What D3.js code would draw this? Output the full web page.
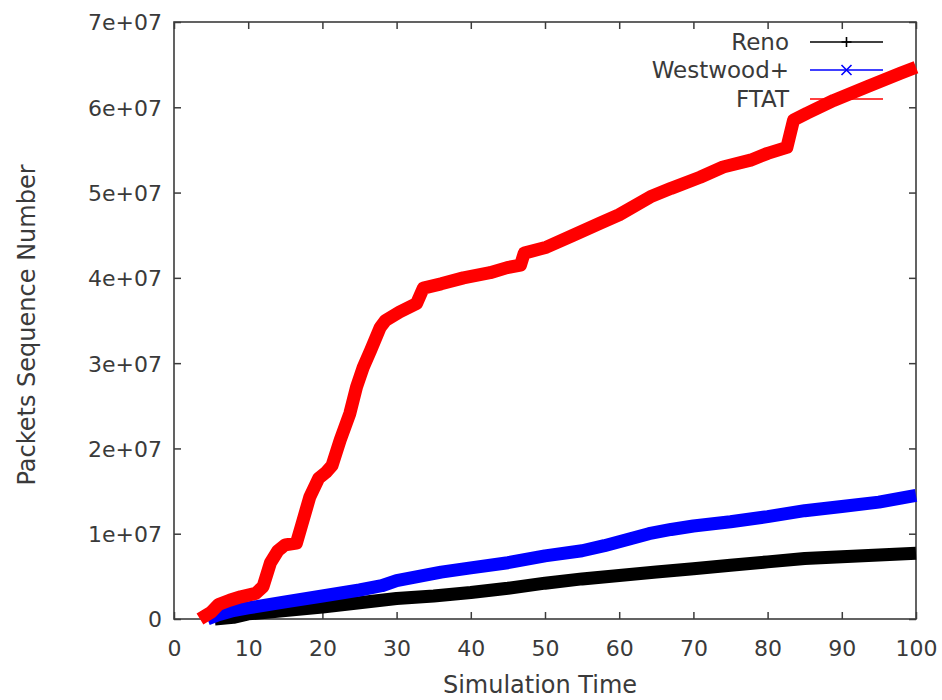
<!DOCTYPE html>
<html>
<head>
<meta charset="utf-8">
<script src="https://cdn.jsdelivr.net/npm/d3@7"></script>
<style>
  html, body { margin: 0; padding: 0; background: #fff; }
  svg { display: block; }
  text { font-family: "DejaVu Sans", sans-serif; fill: #3a3a3a; }
</style>
</head>
<body>
<svg id="chart" width="942" height="700"></svg>
<script>
// Sequence number progress (packets) over simulation time for three TCP variants
const renoTime = [5.5, 8, 10, 15, 20, 25, 30, 35, 40, 45, 50, 55, 60, 65, 70, 75, 80, 85, 90, 95, 100];
const renoSeq  = [0, 0.02e7, 0.06e7, 0.10e7, 0.14e7, 0.19e7, 0.24e7, 0.27e7, 0.31e7, 0.36e7, 0.42e7,
                  0.47e7, 0.51e7, 0.55e7, 0.59e7, 0.63e7, 0.67e7, 0.71e7, 0.73e7, 0.75e7, 0.77e7];

const westwoodTime = [4.5, 6, 8, 10, 15, 20, 25, 28, 30, 33, 36, 40, 45, 50, 55, 58, 61, 64, 67, 70,
                      75, 80, 85, 90, 95, 100];
const westwoodSeq  = [0, 0.05e7, 0.10e7, 0.13e7, 0.20e7, 0.27e7, 0.34e7, 0.39e7, 0.45e7, 0.50e7, 0.55e7,
                      0.60e7, 0.66e7, 0.74e7, 0.80e7, 0.86e7, 0.93e7, 1.00e7, 1.05e7, 1.09e7,
                      1.14e7, 1.20e7, 1.27e7, 1.32e7, 1.37e7, 1.45e7];

const ftatTime = [3.5, 5, 6, 7.5, 9, 11, 12, 13, 14, 15, 16.5, 17.2, 18.3, 19.5, 20.5, 21.3, 22.4, 23.7,
                  24.6, 25.5, 26.5, 27.8, 28.5, 30.4, 32.7, 33.6, 36, 39, 42.6, 44.9, 46.7, 47.2, 50.2,
                  53.8, 57.4, 60, 64.2, 67, 70.9, 74, 77.7, 80, 82.6, 83.5, 85.3, 88.9, 93.4, 97.9, 100];
const ftatSeq  = [0, 0.08e7, 0.17e7, 0.22e7, 0.26e7, 0.30e7, 0.38e7, 0.66e7, 0.80e7, 0.87e7, 0.89e7,
                  1.10e7, 1.43e7, 1.65e7, 1.72e7, 1.80e7, 2.10e7, 2.41e7, 2.72e7, 2.95e7, 3.15e7,
                  3.42e7, 3.50e7, 3.60e7, 3.70e7, 3.88e7, 3.93e7, 4.00e7, 4.06e7, 4.12e7, 4.15e7,
                  4.29e7, 4.36e7, 4.50e7, 4.64e7, 4.74e7, 4.95e7, 5.05e7, 5.18e7, 5.30e7, 5.38e7,
                  5.46e7, 5.53e7, 5.85e7, 5.93e7, 6.08e7, 6.24e7, 6.40e7, 6.47e7];

const seriesNames  = ["Reno", "Westwood+", "FTAT"];
const seriesColors = ["#000000", "#0000ff", "#ff0000"];

const xTicks = [0, 10, 20, 30, 40, 50, 60, 70, 80, 90, 100];
const yTicks = [0, 1e7, 2e7, 3e7, 4e7, 5e7, 6e7, 7e7];
const yTickLabels = ["0", "1e+07", "2e+07", "3e+07", "4e+07", "5e+07", "6e+07", "7e+07"];

const xLabel = "Simulation Time";
const yLabel = "Packets Sequence Number";

const svg = d3.select("#chart");
const plotLeft = 174, plotRight = 916, plotTop = 22, plotBottom = 619;

const x = d3.scaleLinear().domain([0, 100]).range([plotLeft, plotRight]);
const y = d3.scaleLinear().domain([0, 7e7]).range([plotBottom, plotTop]);

const axisColor = "#3c3c3c";
const tickLen = 7;
const fontSize = 22;

// axes with inward ticks, mirrored on the top and right edges
const gx = svg.append("g").attr("transform", `translate(0,${plotBottom})`)
  .call(d3.axisBottom(x).tickValues(xTicks).tickSizeInner(-tickLen).tickSizeOuter(0).tickPadding(21));
const gxTop = svg.append("g").attr("transform", `translate(0,${plotTop})`)
  .call(d3.axisTop(x).tickValues(xTicks).tickSizeInner(-tickLen).tickSizeOuter(0).tickFormat(""));
const gy = svg.append("g").attr("transform", `translate(${plotLeft},0)`)
  .call(d3.axisLeft(y).tickValues(yTicks).tickSizeInner(-tickLen).tickSizeOuter(0).tickPadding(12)
    .tickFormat((d, i) => yTickLabels[i]));
const gyRight = svg.append("g").attr("transform", `translate(${plotRight},0)`)
  .call(d3.axisRight(y).tickValues(yTicks).tickSizeInner(-tickLen).tickSizeOuter(0).tickFormat(""));

[gx, gxTop, gy, gyRight].forEach(g => {
  g.select(".domain").remove();
  g.selectAll(".tick line").attr("stroke", axisColor).attr("stroke-width", 1.5);
  g.selectAll(".tick text")
    .attr("font-family", "DejaVu Sans, sans-serif")
    .attr("font-size", fontSize)
    .attr("fill", "#3a3a3a");
});
gy.selectAll(".tick text").attr("dy", "0.36em");

// plot frame
svg.append("rect")
  .attr("x", plotLeft).attr("y", plotTop)
  .attr("width", plotRight - plotLeft).attr("height", plotBottom - plotTop)
  .attr("fill", "none").attr("stroke", axisColor).attr("stroke-width", 1.6);

// axis titles
svg.append("text")
  .attr("x", 540).attr("y", 693)
  .attr("text-anchor", "middle").attr("font-size", 24)
  .text(xLabel);
svg.append("text")
  .attr("transform", `translate(35,325) rotate(-90)`)
  .attr("text-anchor", "middle").attr("font-size", 24)
  .text(yLabel);

// data series drawn as dense thick bands
const series = [
  { name: seriesNames[0], color: seriesColors[0], t: renoTime, v: renoSeq },
  { name: seriesNames[1], color: seriesColors[1], t: westwoodTime, v: westwoodSeq },
  { name: seriesNames[2], color: seriesColors[2], t: ftatTime, v: ftatSeq }
];

const line = d3.line().x(d => x(d[0])).y(d => y(d[1]));

series.forEach(s => {
  const pts = s.t.map((t, i) => [t, s.v[i]]);
  svg.append("path")
    .datum(pts)
    .attr("d", line)
    .attr("fill", "none")
    .attr("stroke", s.color)
    .attr("stroke-width", 13)
    .attr("stroke-linejoin", "round")
    .attr("stroke-linecap", "butt");
});

// legend
const legX0 = 810, legX1 = 883, legTextX = 789;
const legY = [42, 70, 99];
series.forEach((s, i) => {
  const g = svg.append("g");
  g.append("text")
    .attr("x", legTextX).attr("y", legY[i] + 8)
    .attr("text-anchor", "end").attr("font-size", 23)
    .text(s.name);
  g.append("line")
    .attr("x1", legX0).attr("x2", legX1).attr("y1", legY[i]).attr("y2", legY[i])
    .attr("stroke", s.color).attr("stroke-width", 1.6);
  const cx = (legX0 + legX1) / 2, cy = legY[i], r = 5;
  if (i === 0) {
    g.append("path").attr("d", `M${cx - r},${cy}H${cx + r}M${cx},${cy - r}V${cy + r}`)
      .attr("stroke", s.color).attr("stroke-width", 1.6);
  } else if (i === 1) {
    g.append("path").attr("d", `M${cx - r},${cy - r}L${cx + r},${cy + r}M${cx - r},${cy + r}L${cx + r},${cy - r}`)
      .attr("stroke", s.color).attr("stroke-width", 1.6);
  } else {
    g.append("path").attr("d", `M${cx - r - 1},${cy}H${cx + r + 1}M${cx - r},${cy - 1}H${cx + r}`)
      .attr("stroke", s.color).attr("stroke-width", 1.6);
  }
});
</script>
</body>
</html>
